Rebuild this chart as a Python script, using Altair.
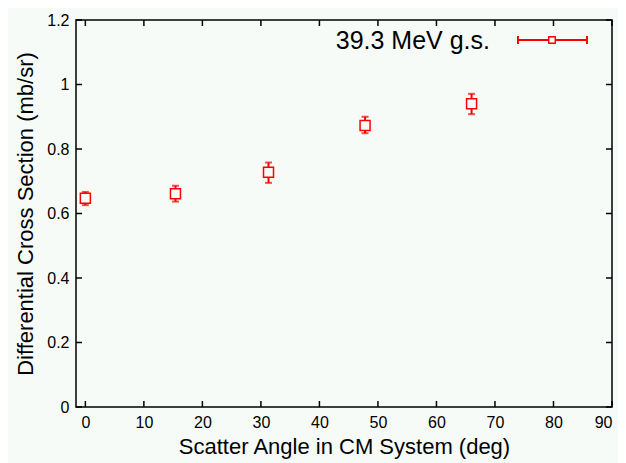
import altair as alt
import pandas as pd

# data
angles = [0.0, 15.4, 31.3, 47.8, 66.0]
cross = [0.647, 0.661, 0.728, 0.873, 0.940]
err_low = [0.626, 0.637, 0.695, 0.849, 0.908]
err_high = [0.667, 0.686, 0.758, 0.900, 0.971]
x_ticks = [0, 10, 20, 30, 40, 50, 60, 70, 80, 90]
y_ticks = [0, 0.2, 0.4, 0.6, 0.8, 1.0, 1.2]
legend_label = "39.3 MeV g.s."

BG = "#f6fbf8"
RED = "#ff0000"
FONT = "Liberation Sans"
W, H = 536, 387

df = pd.DataFrame({"angle": angles, "xs": cross, "lo": err_low, "hi": err_high})
xt = pd.DataFrame({"t": x_ticks})
yt = pd.DataFrame({"t": y_ticks})
one = pd.DataFrame({"label": [legend_label]})

xscale = alt.Scale(domain=[-1.6, 90], nice=False, zero=False)
yscale = alt.Scale(domain=[0, 1.2], nice=False)

xaxis = alt.Axis(values=x_ticks, ticks=False, domain=False, grid=False,
                 labelFontSize=16, labelPadding=7, title="Scatter Angle in CM System (deg)",
                 titleFontSize=22, titleFontWeight="normal", titlePadding=6,
                 labelFont=FONT, titleFont=FONT, labelColor="black", titleColor="black")
yaxis = alt.Axis(values=y_ticks, ticks=False, domain=False, grid=False, format="~g",
                 labelFontSize=16, labelPadding=7, title="Differential Cross Section (mb/sr)",
                 titleFontSize=22, titleFontWeight="normal", titlePadding=9,
                 labelFont=FONT, titleFont=FONT, labelColor="black", titleColor="black")

base = alt.Chart(df)

bars = base.mark_rule(color=RED, strokeWidth=2).encode(
    x=alt.X("angle:Q", scale=xscale, axis=xaxis),
    y=alt.Y("lo:Q", scale=yscale, axis=yaxis),
    y2="hi:Q",
)
cap_lo = base.mark_tick(color=RED, orient="horizontal", size=7, thickness=2).encode(
    x=alt.X("angle:Q", scale=xscale), y=alt.Y("lo:Q", scale=yscale))
cap_hi = base.mark_tick(color=RED, orient="horizontal", size=7, thickness=2).encode(
    x=alt.X("angle:Q", scale=xscale), y=alt.Y("hi:Q", scale=yscale))
pts = base.mark_square(size=100, fill=BG, fillOpacity=1, stroke=RED, strokeWidth=1.5).encode(
    x=alt.X("angle:Q", scale=xscale), y=alt.Y("xs:Q", scale=yscale))

tick_style = dict(color="black", strokeWidth=1.5)
xt_bot = alt.Chart(xt).mark_rule(**tick_style).encode(
    x=alt.X("t:Q", scale=xscale), y=alt.value(H), y2=alt.value(H - 6))
xt_top = alt.Chart(xt).mark_rule(**tick_style).encode(
    x=alt.X("t:Q", scale=xscale), y=alt.value(0), y2=alt.value(6))
yt_left = alt.Chart(yt).mark_rule(**tick_style).encode(
    y=alt.Y("t:Q", scale=yscale), x=alt.value(0), x2=alt.value(6))
yt_right = alt.Chart(yt).mark_rule(**tick_style).encode(
    y=alt.Y("t:Q", scale=yscale), x=alt.value(W), x2=alt.value(W - 6))

leg = alt.Chart(one)
leg_text = leg.mark_text(align="right", baseline="alphabetic", fontSize=25, font=FONT,
                         color="black").encode(text="label:N", x=alt.value(414), y=alt.value(29))
leg_line = leg.mark_rule(color=RED, strokeWidth=2).encode(
    x=alt.value(442), x2=alt.value(511), y=alt.value(20))
leg_cap1 = leg.mark_rule(color=RED, strokeWidth=2).encode(
    x=alt.value(442), y=alt.value(16), y2=alt.value(24))
leg_cap2 = leg.mark_rule(color=RED, strokeWidth=2).encode(
    x=alt.value(511), y=alt.value(16), y2=alt.value(24))
leg_sq = leg.mark_square(size=42, fill=BG, fillOpacity=1, stroke=RED, strokeWidth=1.5).encode(
    x=alt.value(476), y=alt.value(20))

chart = alt.layer(
    xt_bot, xt_top, yt_left, yt_right, bars, cap_lo, cap_hi, pts,
    leg_line, leg_cap1, leg_cap2, leg_sq, leg_text,
).properties(
    width=W, height=H,
    autosize=alt.AutoSizeParams(type="none"),
    padding={"left": 68, "top": 12, "right": 6, "bottom": 56},
    background=BG,
).configure_view(stroke="black", strokeWidth=1.5)

chart.save("out.html", embed_options={"renderer": "svg", "actions": False})
